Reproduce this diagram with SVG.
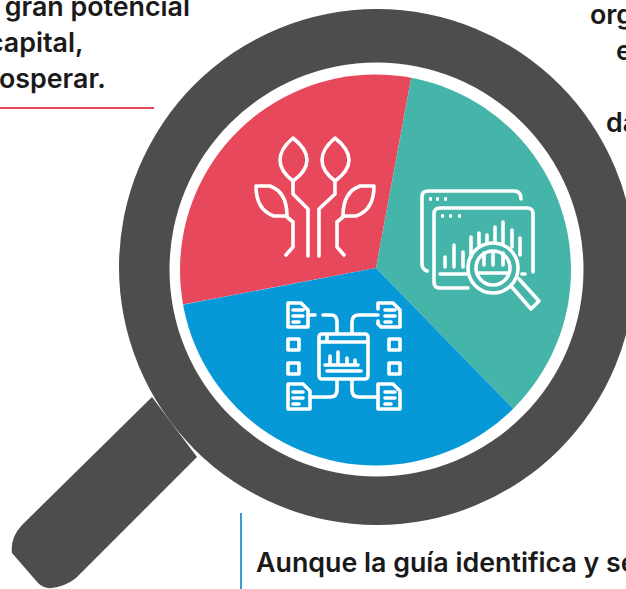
<svg xmlns="http://www.w3.org/2000/svg" width="626" height="589" viewBox="0 0 626 589">
<style>
.t{font-family:"Inter","Liberation Sans",sans-serif;font-weight:600;font-size:26.8px;fill:#1a1a1a}
.i{fill:none;stroke:#fff;stroke-width:3.6;stroke-linecap:round;stroke-linejoin:round}
.d{fill:none;stroke:#fff;stroke-width:3.6;stroke-linecap:butt}
</style>
<defs><clipPath id="disc"><circle cx="375.500" cy="270" r="195.500"/></clipPath></defs>
<rect width="626" height="589" fill="#fff"/>
<g id="texts">
<text class="t" x="190" y="16" text-anchor="end">gran potencial</text>
<text class="t" x="-12" y="52">capital,</text>
<text class="t" x="-1" y="88">osperar.</text>
<text class="t" x="590" y="24">org</text>
<text class="t" x="616" y="60">e</text>
<text class="t" x="606" y="132">da</text>
<text class="t" x="256" y="572">Aunque la guía identifica y se</text>
</g>
<g id="rules">
<line x1="0" y1="108" x2="154" y2="108" stroke="#e8485c" stroke-width="2"/>
<line x1="241" y1="513" x2="241" y2="589" stroke="#3b9bd9" stroke-width="2"/>
</g>
<g id="magnifier">
<path d="M152 397L22 525Q10 538 12 553L38 583Q44 589 52 588Q66 586 76 578L197 457Z" fill="#4d4d4d"/>
<circle cx="377" cy="267" r="258" fill="#4d4d4d"/>
<circle cx="376.500" cy="269.500" r="207" fill="#fff"/>
</g>
<g id="pie" clip-path="url(#disc)">
<path d="M376 268L170 307L160 60L416 52Z" fill="#e8485c"/>
<path d="M376 268L416 52L600 60V500L534 430Z" fill="#46b5a9"/>
<path d="M376 268L534 430L500 500H160V309Z" fill="#0798d8"/>
</g>
<g id="icon-plant" class="i">
<path d="M293 138Q280 149 280 160Q280 171 293 181Q307 171 307 160Q307 149 293 138Z"/>
<path d="M335 138Q322 149 322 160Q322 171 335 181Q349 171 349 160Q349 149 335 138Z"/>
<path d="M293 181V194L308 209V256M335 181V194L319 209V256"/>
<path d="M256 186H270Q287 192 287 216H274Q256 210 256 186Z"/>
<path d="M374 186H360Q343 192 343 216H356Q374 210 374 186Z"/>
<path d="M287 217L293 222V247L286 255M343 217L337 222V247L344 255"/>
</g>
<g id="icon-analytics" class="i">
<path d="M427 271Q422 269 422 264V197Q422 191 428 191H514Q521 191 521 199"/>
<path d="M438 288H440Q434 288 434 282V214Q434 208 440 208H527Q533 208 533 214V272M440 288H468"/>
<path d="M445 267V257M454 267V245M463 267V252M471 257V237M479 245V233M487 242V235M495 243V227M503 243V222M512 247V230M520 255V238M440 274H468M522 274H525"/>
<circle cx="493" cy="268" r="25"/>
<circle cx="493" cy="268" r="17"/>
<path d="M478 273H508M484 265V253M493 265V253M503 265V253"/>
<path d="M511 286L531 309L539 301L519 279"/>
</g>
<g id="icon-analytics-dots" class="d">
<path d="M429 199H432M436 199H439M444 199H447M441 216H444M449 216H452M458 216H461"/>
</g>
<g id="icon-data" class="i">
<path d="M288 303H301L308 310V327H288ZM293 310H303M293 316H303M293 322H299"/>
<path d="M378 309V303H393L400 310V327H381L378 324V321M385 310H395M385 316H395M385 322H391"/>
<path d="M288 384H303L310 391V409H288ZM293 392H303M293 398H303M293 404H299"/>
<path d="M378 384H393L400 391V409H378ZM385 392H395M385 398H395M385 404H391"/>
<rect x="288" y="339" width="11" height="11"/><rect x="288" y="363" width="11" height="11"/>
<rect x="389" y="339" width="11" height="11"/><rect x="389" y="363" width="11" height="11"/>
<path d="M308 315H315M323 315H331Q337 315 337 322V332M352 332V322Q352 315 359 315H378"/>
<rect x="319" y="334" width="49" height="45" rx="3"/>
<path d="M319 342H368M327 335V341"/>
<path d="M325 365H358M327 371H361M330 364V356M338 364V352M347 364V358M355 364V360"/>
<path d="M337 380V390Q337 397 330 397H310M352 380V390Q352 397 359 397H378"/>
</g>
</svg>
